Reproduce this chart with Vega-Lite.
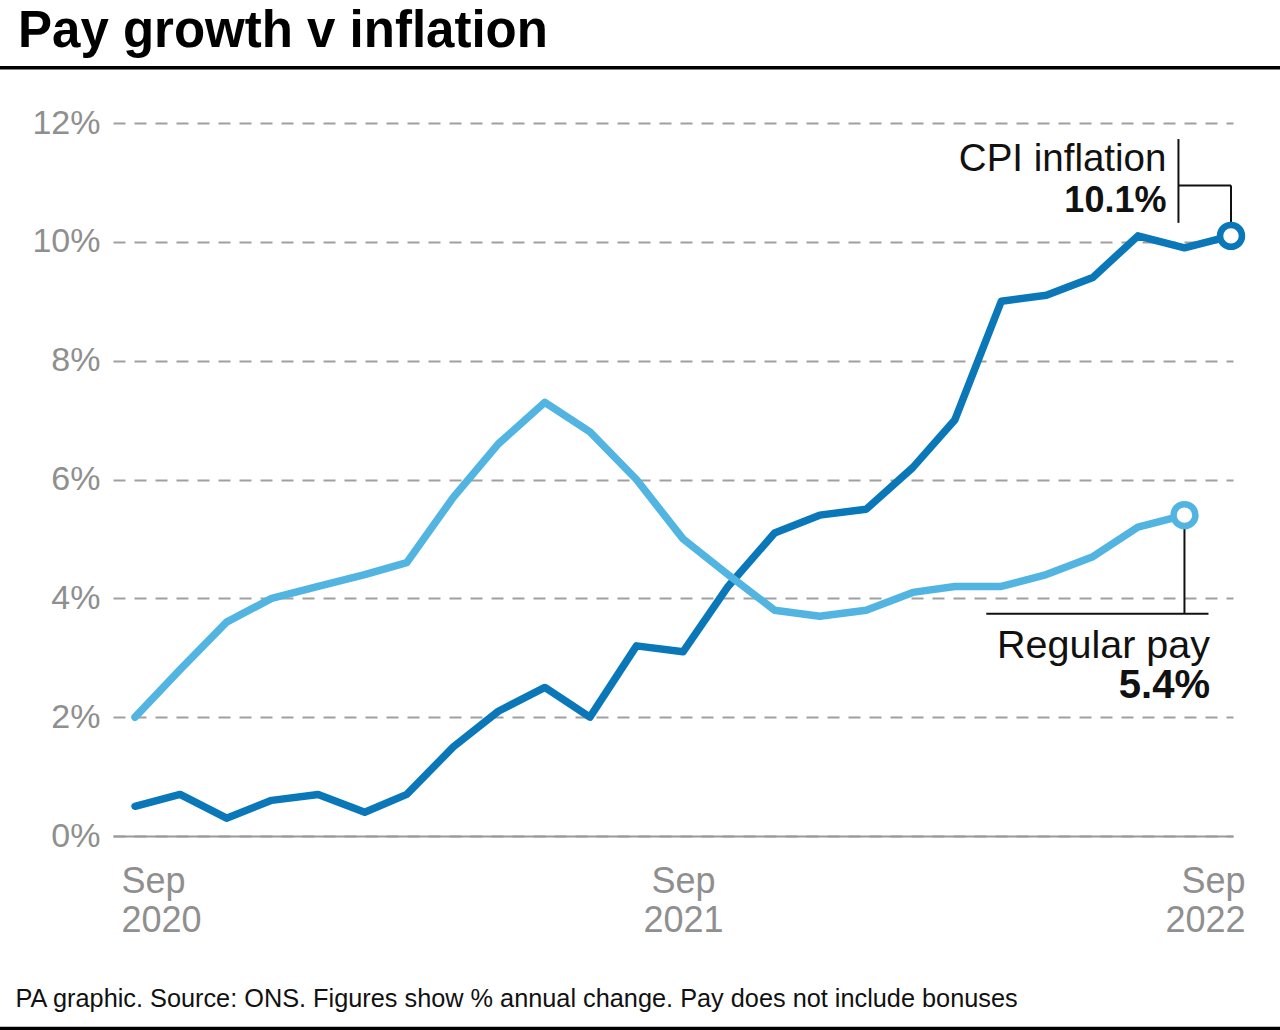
{
  "$schema": "https://vega.github.io/schema/vega-lite/v6.json",
  "width": 1120,
  "height": 713,
  "autosize": {"type": "none"},
  "padding": {"left": 113, "top": 123, "right": 47, "bottom": 194},
  "background": "white",
  "title": {
    "text": "Pay growth v inflation",
    "anchor": "start",
    "frame": "group",
    "font": "Liberation Sans",
    "fontSize": 51,
    "fontWeight": "bold",
    "color": "#000000",
    "baseline": "alphabetic",
    "dx": -95,
    "offset": -32
  },
  "config": {"view": {"stroke": null}, "font": "Liberation Sans"},
  "datasets": {
    "series": [
      {"date": "2020-09-01", "series": "CPI inflation", "value": 0.5},
      {"date": "2020-10-01", "series": "CPI inflation", "value": 0.7},
      {"date": "2020-11-01", "series": "CPI inflation", "value": 0.3},
      {"date": "2020-12-01", "series": "CPI inflation", "value": 0.6},
      {"date": "2021-01-01", "series": "CPI inflation", "value": 0.7},
      {"date": "2021-02-01", "series": "CPI inflation", "value": 0.4},
      {"date": "2021-03-01", "series": "CPI inflation", "value": 0.7},
      {"date": "2021-04-01", "series": "CPI inflation", "value": 1.5},
      {"date": "2021-05-01", "series": "CPI inflation", "value": 2.1},
      {"date": "2021-06-01", "series": "CPI inflation", "value": 2.5},
      {"date": "2021-07-01", "series": "CPI inflation", "value": 2.0},
      {"date": "2021-08-01", "series": "CPI inflation", "value": 3.2},
      {"date": "2021-09-01", "series": "CPI inflation", "value": 3.1},
      {"date": "2021-10-01", "series": "CPI inflation", "value": 4.2},
      {"date": "2021-11-01", "series": "CPI inflation", "value": 5.1},
      {"date": "2021-12-01", "series": "CPI inflation", "value": 5.4},
      {"date": "2022-01-01", "series": "CPI inflation", "value": 5.5},
      {"date": "2022-02-01", "series": "CPI inflation", "value": 6.2},
      {"date": "2022-03-01", "series": "CPI inflation", "value": 7.0},
      {"date": "2022-04-01", "series": "CPI inflation", "value": 9.0},
      {"date": "2022-05-01", "series": "CPI inflation", "value": 9.1},
      {"date": "2022-06-01", "series": "CPI inflation", "value": 9.4},
      {"date": "2022-07-01", "series": "CPI inflation", "value": 10.1},
      {"date": "2022-08-01", "series": "CPI inflation", "value": 9.9},
      {"date": "2022-09-01", "series": "CPI inflation", "value": 10.1},
      {"date": "2020-09-01", "series": "Regular pay", "value": 2.0},
      {"date": "2020-10-01", "series": "Regular pay", "value": 2.8},
      {"date": "2020-11-01", "series": "Regular pay", "value": 3.6},
      {"date": "2020-12-01", "series": "Regular pay", "value": 4.0},
      {"date": "2021-01-01", "series": "Regular pay", "value": 4.2},
      {"date": "2021-02-01", "series": "Regular pay", "value": 4.4},
      {"date": "2021-03-01", "series": "Regular pay", "value": 4.6},
      {"date": "2021-04-01", "series": "Regular pay", "value": 5.7},
      {"date": "2021-05-01", "series": "Regular pay", "value": 6.6},
      {"date": "2021-06-01", "series": "Regular pay", "value": 7.3},
      {"date": "2021-07-01", "series": "Regular pay", "value": 6.8},
      {"date": "2021-08-01", "series": "Regular pay", "value": 6.0},
      {"date": "2021-09-01", "series": "Regular pay", "value": 5.0},
      {"date": "2021-10-01", "series": "Regular pay", "value": 4.4},
      {"date": "2021-11-01", "series": "Regular pay", "value": 3.8},
      {"date": "2021-12-01", "series": "Regular pay", "value": 3.7},
      {"date": "2022-01-01", "series": "Regular pay", "value": 3.8},
      {"date": "2022-02-01", "series": "Regular pay", "value": 4.1},
      {"date": "2022-03-01", "series": "Regular pay", "value": 4.2},
      {"date": "2022-04-01", "series": "Regular pay", "value": 4.2},
      {"date": "2022-05-01", "series": "Regular pay", "value": 4.4},
      {"date": "2022-06-01", "series": "Regular pay", "value": 4.7},
      {"date": "2022-07-01", "series": "Regular pay", "value": 5.2},
      {"date": "2022-08-01", "series": "Regular pay", "value": 5.4}
    ],
    "ends": [
      {"date": "2022-09-01", "series": "CPI inflation", "value": 10.1},
      {"date": "2022-08-01", "series": "Regular pay", "value": 5.4}
    ],
    "leaders": [
      {"date": "2022-07-28", "date2": "2022-07-28", "value": 11.73, "value2": 10.32},
      {"date": "2022-07-28", "date2": "2022-09-01", "value": 10.95, "value2": 10.95},
      {"date": "2022-09-01", "date2": "2022-09-01", "value": 10.95, "value2": 10.3},
      {"date": "2022-08-01", "date2": "2022-08-01", "value": 5.2, "value2": 3.74},
      {"date": "2022-03-22", "date2": "2022-08-17", "value": 3.74, "value2": 3.74}
    ],
    "frame": [
      {"date": "2020-04-01", "date2": "2022-12-01", "value": 12.93},
      {"date": "2020-04-01", "date2": "2022-12-01", "value": -3.24}
    ],
    "names": [
      {"text": "CPI inflation", "date": "2022-07-20", "value": 11.2},
      {"text": "Regular pay", "date": "2022-08-18", "value": 3.0}
    ],
    "figures": [
      {"text": "10.1%", "date": "2022-07-20", "value": 10.5},
      {"text": "5.4%", "date": "2022-08-18", "value": 2.33}
    ]
  },
  "layer": [
    {
      "data": {"name": "series"},
      "mark": {"type": "line", "strokeWidth": 7.5, "strokeCap": "round", "strokeJoin": "round"},
      "encoding": {
        "x": {
          "field": "date",
          "type": "temporal",
          "scale": {
            "type": "utc",
            "domain": [
              {"year": 2020, "month": 8, "date": 17, "hours": 8, "utc": true},
              {"year": 2022, "month": 9, "date": 2, "hours": 8, "utc": true}
            ]
          },
          "axis": {
            "values": [
              {"year": 2020, "month": 9, "date": 1, "utc": true},
              {"year": 2021, "month": 9, "date": 1, "utc": true},
              {"year": 2022, "month": 9, "date": 1, "utc": true}
            ],
            "labelExpr": "[utcFormat(datum.value, '%b'), utcFormat(datum.value, '%Y')]",
            "labelFont": "Liberation Sans",
            "labelFontSize": 36,
            "labelColor": "#8f8f8f",
            "labelLineHeight": 39,
            "labelBaseline": "top",
            "labelPadding": 28,
            "labelFlush": 30,
            "labelFlushOffset": 14,
            "labelOverlap": false,
            "ticks": false,
            "grid": false,
            "domain": true,
            "domainColor": "#9a9a9a",
            "domainWidth": 2,
            "title": "PA graphic. Source: ONS. Figures show % annual change. Pay does not include bonuses",
            "titleFont": "Liberation Sans",
            "titleFontSize": 25.3,
            "titleFontWeight": "normal",
            "titleColor": "#111111",
            "titleAnchor": "start",
            "titleAlign": "left",
            "titleBaseline": "alphabetic",
            "titleX": -98,
            "titleY": 170
          }
        },
        "y": {
          "field": "value",
          "type": "quantitative",
          "scale": {"domain": [0, 12], "nice": false, "zero": false},
          "axis": {
            "values": [0, 2, 4, 6, 8, 10, 12],
            "labelExpr": "datum.value + '%'",
            "labelFont": "Liberation Sans",
            "labelFontSize": 34,
            "labelColor": "#8f8f8f",
            "labelPadding": 13,
            "labelBaseline": "middle",
            "ticks": false,
            "domain": false,
            "grid": true,
            "gridColor": "#a0a0a0",
            "gridWidth": 2,
            "gridDash": [12, 9],
            "title": null
          }
        },
        "color": {
          "field": "series",
          "type": "nominal",
          "scale": {"domain": ["CPI inflation", "Regular pay"], "range": ["#0a78b8", "#52b4e0"]},
          "legend": null
        }
      }
    },
    {
      "data": {"name": "leaders"},
      "mark": {"type": "rule", "color": "#111111", "strokeWidth": 2},
      "encoding": {
        "x": {"field": "date", "type": "temporal"},
        "x2": {"field": "date2"},
        "y": {"field": "value", "type": "quantitative"},
        "y2": {"field": "value2"}
      }
    },
    {
      "data": {"name": "frame"},
      "mark": {"type": "rule", "color": "#000000", "strokeWidth": 3.5},
      "encoding": {
        "x": {"field": "date", "type": "temporal"},
        "x2": {"field": "date2"},
        "y": {"field": "value", "type": "quantitative"}
      }
    },
    {
      "data": {"name": "ends"},
      "mark": {"type": "point", "shape": "circle", "filled": false, "fill": "white", "fillOpacity": 1, "opacity": 1, "strokeWidth": 6.5, "size": 480},
      "encoding": {
        "x": {"field": "date", "type": "temporal"},
        "y": {"field": "value", "type": "quantitative"},
        "color": {"field": "series", "type": "nominal", "legend": null}
      }
    },
    {
      "data": {"name": "names"},
      "transform": [{"filter": {"field": "text", "equal": "CPI inflation"}}],
      "mark": {"type": "text", "align": "right", "baseline": "alphabetic", "font": "Liberation Sans", "fontSize": 38.5, "color": "#111111"},
      "encoding": {
        "x": {"field": "date", "type": "temporal"},
        "y": {"field": "value", "type": "quantitative"},
        "text": {"field": "text"}
      }
    },
    {
      "data": {"name": "names"},
      "transform": [{"filter": {"field": "text", "equal": "Regular pay"}}],
      "mark": {"type": "text", "align": "right", "baseline": "alphabetic", "font": "Liberation Sans", "fontSize": 39.5, "color": "#111111"},
      "encoding": {
        "x": {"field": "date", "type": "temporal"},
        "y": {"field": "value", "type": "quantitative"},
        "text": {"field": "text"}
      }
    },
    {
      "data": {"name": "figures"},
      "transform": [{"filter": {"field": "text", "equal": "10.1%"}}],
      "mark": {"type": "text", "align": "right", "baseline": "alphabetic", "font": "Liberation Sans", "fontSize": 36, "fontWeight": "bold", "color": "#111111"},
      "encoding": {
        "x": {"field": "date", "type": "temporal"},
        "y": {"field": "value", "type": "quantitative"},
        "text": {"field": "text"}
      }
    },
    {
      "data": {"name": "figures"},
      "transform": [{"filter": {"field": "text", "equal": "5.4%"}}],
      "mark": {"type": "text", "align": "right", "baseline": "alphabetic", "font": "Liberation Sans", "fontSize": 40, "fontWeight": "bold", "color": "#111111"},
      "encoding": {
        "x": {"field": "date", "type": "temporal"},
        "y": {"field": "value", "type": "quantitative"},
        "text": {"field": "text"}
      }
    }
  ]
}
